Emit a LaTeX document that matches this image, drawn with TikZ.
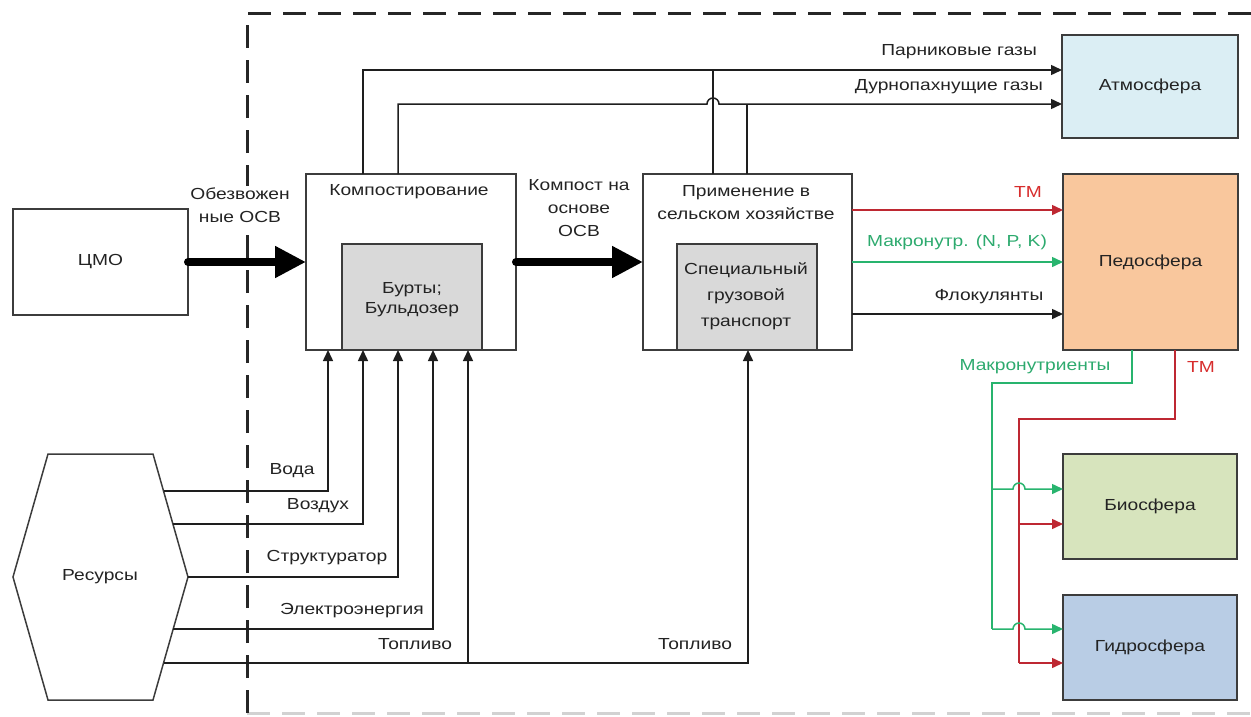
\documentclass[tikz,border=0pt]{standalone}
\usepackage{fontspec}
\setmainfont{Liberation Sans}[FakeStretch=1.2]
\usetikzlibrary{arrows.meta,calc}
\definecolor{boxc}{RGB}{60,60,60}
\definecolor{linec}{RGB}{30,30,30}
\definecolor{txtc}{RGB}{35,35,35}
\definecolor{atmc}{RGB}{219,238,244}
\definecolor{pedc}{RGB}{249,199,157}
\definecolor{bioc}{RGB}{215,228,189}
\definecolor{hydc}{RGB}{185,205,229}
\definecolor{grayc}{RGB}{217,217,217}
\definecolor{redl}{RGB}{190,40,50}
\definecolor{redt}{RGB}{215,45,45}
\definecolor{grnl}{RGB}{40,180,110}
\definecolor{grnt}{RGB}{45,170,110}
\begin{document}
\begin{tikzpicture}[x=1pt,y=-1pt,
  box/.style={draw=boxc, line width=1.6pt, inner sep=0pt, outer sep=0pt},
  txt/.style={font=\fontsize{16}{23}\selectfont, text=txtc, align=center, inner sep=0pt},
  ln/.style={draw=linec, line width=1.5pt},
  arr/.style={ln, -{Triangle[length=11pt,width=10pt]}},
  redln/.style={draw=redl, line width=1.5pt},
  redarr/.style={redln, -{Triangle[length=11pt,width=10pt]}},
  grnln/.style={draw=grnl, line width=1.5pt},
  grnarr/.style={grnln, -{Triangle[length=11pt,width=10pt]}},
  big/.style={draw=black, line width=8pt, line cap=round, -{Triangle[length=31pt,width=30pt]}},
  border/.style={line width=3pt, dash pattern=on 23pt off 12pt}
]
\useasboundingbox (0,0) rectangle (1251,717);

% system border
\draw[border, draw=gray!35] (247,713) -- (1251,713);
\draw[border, draw=black!85] (247,713) -- (247,14) -- (1251,14);

% label over the border (white background hides the dashed line)
\node[txt, fill=white, inner sep=2pt] (lab1) at (240,205) {Обезвожен\\ные ОСВ};

% boxes
\node[box, fill=white, minimum width=175pt, minimum height=106pt] (cmo) at (100.5,262) {};
\node[txt] (cmot) at (cmo) {ЦМО};

\node[box, fill=white, minimum width=210pt, minimum height=176pt] (comp) at (411,262) {};
\node[box, fill=grayc, minimum width=140pt, minimum height=106pt] (compin) at (412,297) {};
\node[txt] (compt) at (409,192) {Компостирование};
\node[txt, font=\fontsize{16}{20}\selectfont] (compint) at (412,300) {Бурты;\\Бульдозер};

\node[box, fill=white, minimum width=209pt, minimum height=176pt] (app) at (747.5,262) {};
\node[box, fill=grayc, minimum width=140pt, minimum height=106pt] (appin) at (747,297) {};
\node[txt] (appt) at (746,203) {Применение в\\сельском хозяйстве};
\node[txt, font=\fontsize{16}{26}\selectfont] (appint) at (746,296) {Специальный\\грузовой\\транспорт};

\node[box, fill=atmc, minimum width=176pt, minimum height=103pt] (atm) at (1150,86.5) {};
\node[txt] (atmt) at (atm) {Атмосфера};
\node[box, fill=pedc, minimum width=175pt, minimum height=176pt] (pedo) at (1150.5,262) {};
\node[txt] (pedot) at (pedo) {Педосфера};
\node[box, fill=bioc, minimum width=174pt, minimum height=105pt] (bio) at (1150,506.5) {};
\node[txt] (biot) at (bio) {Биосфера};
\node[box, fill=hydc, minimum width=174pt, minimum height=105pt] (hyd) at (1150,647.5) {};
\node[txt] (hydt) at (hyd) {Гидросфера};

% resources hexagon
\draw[draw=boxc, line width=1.5pt, fill=white] (48,454) -- (153,454) -- (188,577) -- (153,700) -- (48,700) -- (13,577) -- cycle;
\node[txt] (res) at (100,577) {Ресурсы};

% thick arrows
\draw[big] (cmo.east) -- (comp.west);
\draw[big] (comp.east) -- (app.west);
\node[txt] (lab2) at (579,208) {Компост на\\основе\\ОСВ};

% gases
\coordinate (g1) at (363,70);
\coordinate (g2) at (398,104);
\coordinate (j1) at (713,70);
\coordinate (j2) at (747,104);
\draw[ln] (app.north -| j1) -- (j1);
\draw[ln] (app.north -| j2) -- (j2);
\draw[arr] (comp.north -| g1) -- (g1) -- (atm.west |- g1);
\draw[arr] (comp.north -| g2) -- (g2) -- ($(j1 |- g2)+(-6,0)$) arc[start angle=180,end angle=360,radius=6] -- (atm.west |- g2);
\node[txt, anchor=east] (lg1) at (1037,52) {Парниковые газы};
\node[txt, anchor=east] (lg2) at (1043,87) {Дурнопахнущие газы};

% outputs to pedosphere
\coordinate (o1) at (0,210);
\coordinate (o2) at (0,262);
\coordinate (o3) at (0,314);
\draw[redarr] (app.east |- o1) -- (pedo.west |- o1);
\draw[grnarr] (app.east |- o2) -- (pedo.west |- o2);
\draw[arr] (app.east |- o3) -- (pedo.west |- o3);
\node[txt, text=redt] (lo1) at (1028,192) {ТМ};
\node[txt, text=grnt] (lo2) at (957,242) {Макронутр. (N, P, K)};
\node[txt] (lo3) at (989,297) {Флокулянты};

% resources inputs
\coordinate (r1) at (163.5,491);
\coordinate (r2) at (173,524);
\coordinate (r3) at (188,577);
\coordinate (r4) at (173,629);
\coordinate (r5) at (163.5,663);
\coordinate (x1) at (328,0);
\coordinate (x2) at (363,0);
\coordinate (x3) at (398,0);
\coordinate (x4) at (433,0);
\coordinate (x5) at (468,0);
\coordinate (x6) at (748,0);
\draw[arr] (r1) -| (comp.south -| x1);
\draw[arr] (r2) -| (comp.south -| x2);
\draw[arr] (r3) -| (comp.south -| x3);
\draw[arr] (r4) -| (comp.south -| x4);
\draw[arr] (r5) -| (app.south -| x6);
\draw[arr] (x5 |- r5) -- (comp.south -| x5);
\node[txt] (lr1) at (292,471) {Вода};
\node[txt] (lr2) at (318,506) {Воздух};
\node[txt] (lr3) at (327,558) {Структуратор};
\node[txt] (lr4) at (352,611) {Электроэнергия};
\node[txt] (lr5) at (415,644) {Топливо};
\node[txt] (lr6) at (695,644) {Топливо};

% pedosphere to bio/hydro
\coordinate (gA) at (1132,383);
\coordinate (gB) at (992,383);
\coordinate (rA) at (1175,419);
\coordinate (rB) at (1019,419);
\coordinate (yb1) at (0,489);
\coordinate (yb2) at (0,524);
\coordinate (yh1) at (0,629);
\coordinate (yh2) at (0,663);
\draw[redln] (pedo.south -| rA) -- (rA) -- (rB) -- (rB |- yh2);
\draw[redarr] (rB |- yb2) -- (bio.west |- yb2);
\draw[redarr] (rB |- yh2) -- (hyd.west |- yh2);
\draw[grnln] (pedo.south -| gA) -- (gA) -- (gB) -- (gB |- yh1);
\draw[grnarr] (gB |- yb1) -- ($(rB |- yb1)+(-6,0)$) arc[start angle=180,end angle=360,radius=6] -- (bio.west |- yb1);
\draw[grnarr] (gB |- yh1) -- ($(rB |- yh1)+(-6,0)$) arc[start angle=180,end angle=360,radius=6] -- (hyd.west |- yh1);
\node[txt, text=grnt] (lm) at (1035,367) {Макронутриенты};
\node[txt, text=redt] (ltm) at (1201,367) {ТМ};
\end{tikzpicture}
\end{document}
